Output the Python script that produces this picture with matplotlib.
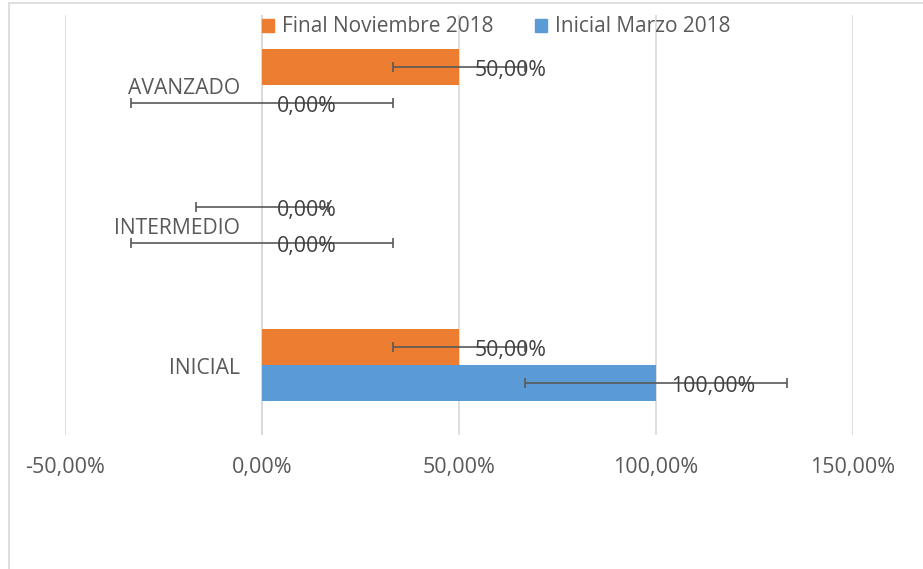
import matplotlib.pyplot as plt
import matplotlib.patches as mpatches
import numpy as np

# data
categories = ["INICIAL", "INTERMEDIO", "AVANZADO"]
final_nov = [50.0, 0.0, 50.0]
inicial_mar = [100.0, 0.0, 0.0]
err_final = [16.67, 16.67, 16.67]
err_inicial = [33.33, 33.33, 33.33]
series_names = ["Final Noviembre 2018", "Inicial Marzo 2018"]
xticks = [-50, 0, 50, 100, 150]

orange = "#ED7D31"
blue = "#5B9BD5"
txt = "#595959"
grid_c = "#D9D9D9"
plt.rcParams["font.family"] = ["Open Sans", "DejaVu Sans"]

fig = plt.figure(figsize=(9.23, 5.69), dpi=100)
ax = fig.add_axes([65 / 923, 134 / 569, 788 / 923, 420 / 569])

y = np.arange(len(categories))
h = 0.26
ax.barh(y + h / 2, final_nov, height=h, color=orange, zorder=2)
ax.barh(y - h / 2, inicial_mar, height=h, color=blue, zorder=2)
ax.errorbar(final_nov, y + h / 2, xerr=err_final, fmt="none", ecolor=txt,
            elinewidth=1.2, capsize=3.6, capthick=1.2, zorder=3)
ax.errorbar(inicial_mar, y - h / 2, xerr=err_inicial, fmt="none", ecolor=txt,
            elinewidth=1.2, capsize=3.6, capthick=1.2, zorder=3)

for vals, off in [(final_nov, h / 2), (inicial_mar, -h / 2)]:
    for i, v in enumerate(vals):
        ax.annotate(f"{v:.2f}".replace(".", ",") + "%", (v, i + off),
                    xytext=(11, -2.5), textcoords="offset points",
                    ha="left", va="center", fontsize=15.3, color="#404040", zorder=4)

ax.set_xlim(-50, 150)
ax.set_ylim(-0.5, 2.5)
ax.set_xticks(xticks)
ax.set_xticklabels([f"{t:.2f}".replace(".", ",") + "%" for t in xticks])
ax.set_yticks([])
for i, c in enumerate(categories):
    ax.annotate(c, (-5.5, i), xytext=(0, -2.5), textcoords="offset points",
                ha="right", va="center", fontsize=15.2, color=txt)
ax.tick_params(axis="x", length=0, pad=16, labelsize=15.5, labelcolor=txt)
ax.grid(axis="x", color=grid_c, linewidth=1.2, zorder=0)
ax.axvline(0, color=grid_c, linewidth=1.2, zorder=1)
for s in ax.spines.values():
    s.set_visible(False)

handles = [mpatches.Patch(color=orange), mpatches.Patch(color=blue)]
fig.legend(handles, series_names, loc="center", ncol=2, frameon=False,
           bbox_to_anchor=(496 / 923, 1 - 27 / 569), fontsize=15,
           labelcolor=txt, handlelength=0.6, handleheight=0.6,
           handletextpad=0.35, columnspacing=2.0)

# chart area border
fig.patches.append(mpatches.Rectangle((9 / 923, -0.1), 1.2, 1.1 - 3 / 569,
                                      transform=fig.transFigure, fill=False,
                                      edgecolor=grid_c, linewidth=1.2))

fig.savefig("out.png", dpi=100)
